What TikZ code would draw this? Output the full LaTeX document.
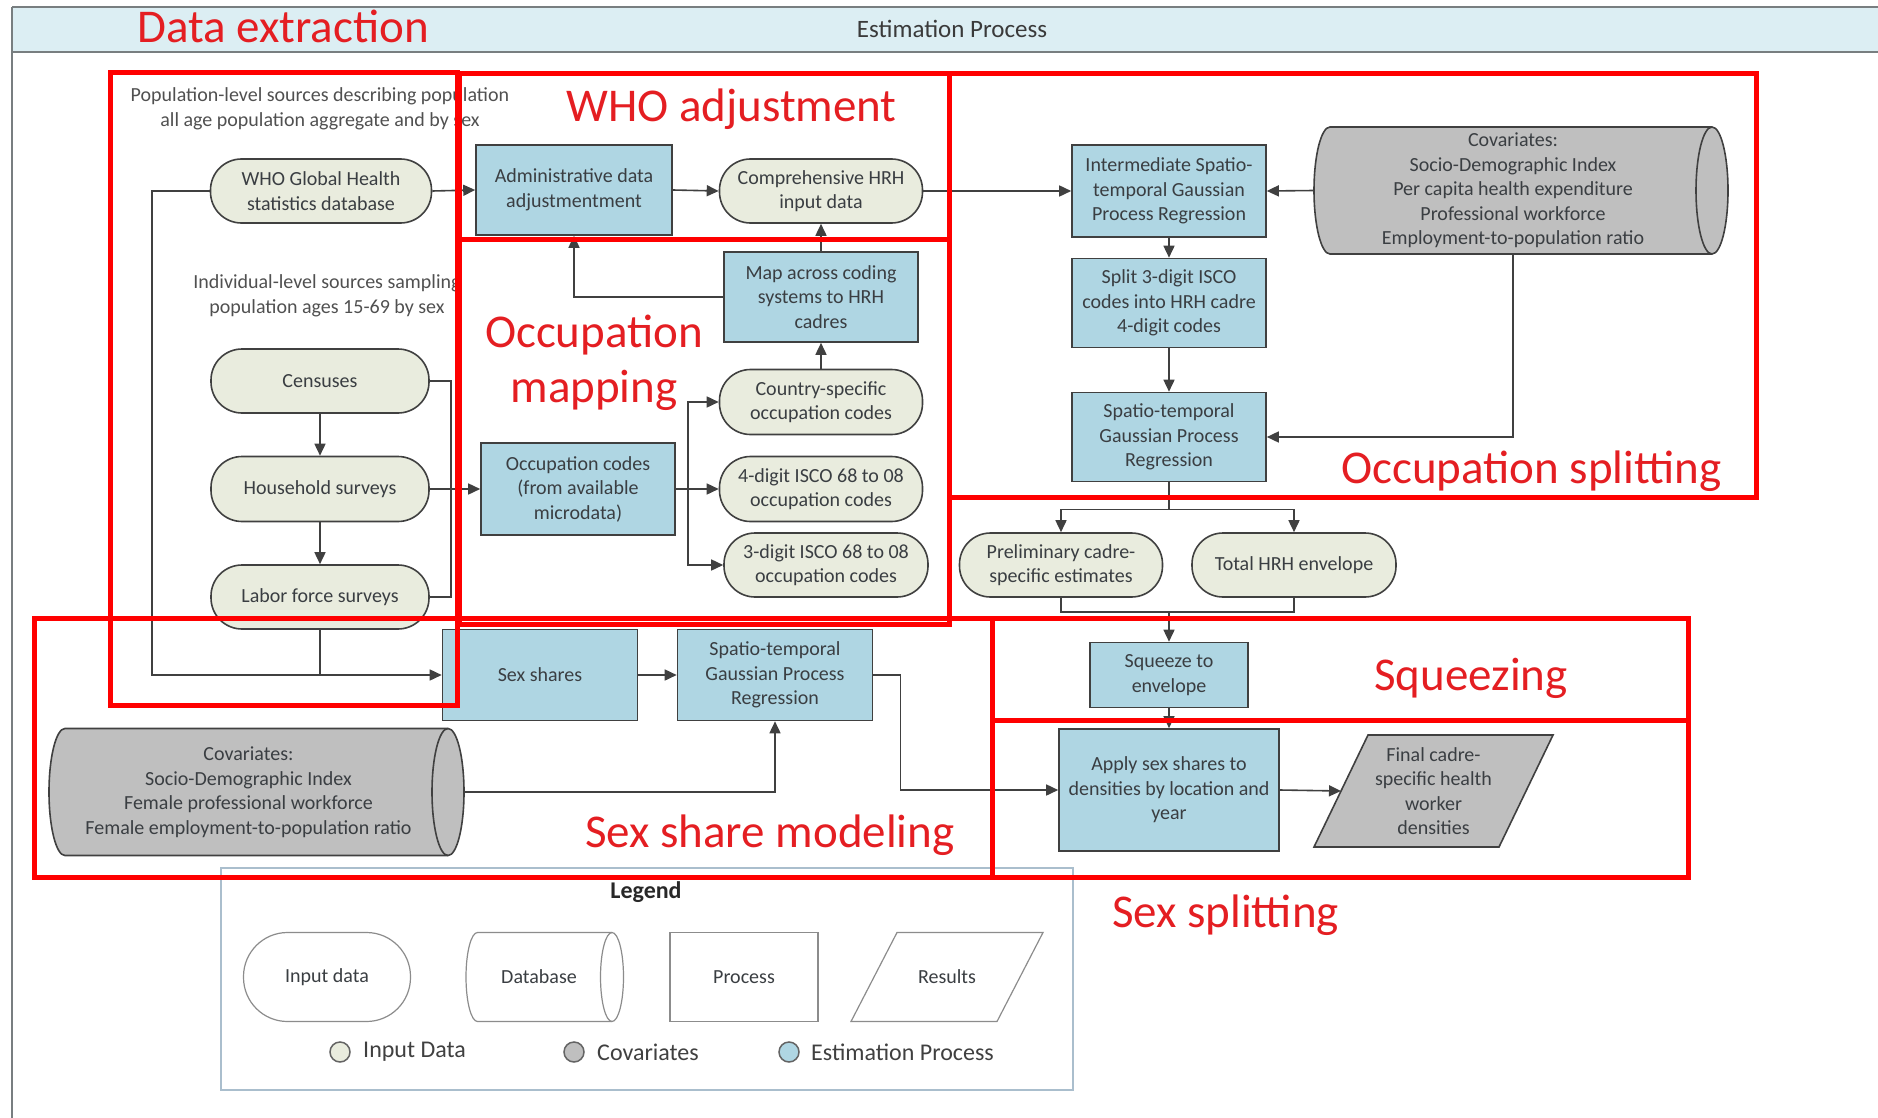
\documentclass[tikz,border=0pt]{standalone}
\usepackage{fontspec}
\setmainfont{Carlito}
\usetikzlibrary{arrows.meta,calc,backgrounds}
\definecolor{inpc}{RGB}{233,236,222}
\definecolor{procc}{RGB}{175,214,227}
\definecolor{covc}{RGB}{191,191,191}
\definecolor{linec}{RGB}{64,64,64}
\definecolor{txtc}{RGB}{58,62,66}
\definecolor{bandc}{RGB}{220,238,243}
\definecolor{bandline}{RGB}{120,126,128}
\definecolor{redbx}{RGB}{255,0,0}
\definecolor{redtxt}{RGB}{228,30,34}
\definecolor{legline}{RGB}{170,190,205}
\definecolor{lgshape}{RGB}{140,140,140}
\newcommand\dbshape[5]{% node, rx, ry, fill, line colour/width
  \path[draw=#5,fill=#4] let \p1=(#1.north west), \p2=(#1.south east) in
   (\x1+#2,\y1) -- (\x2,\y1) arc[start angle=90,end angle=-90,x radius=#2,y radius=#3]
   -- (\x1+#2,\y2) arc[start angle=270,end angle=90,x radius=#2,y radius=#3] -- cycle;
  \path[draw=#5] let \p2=(#1.north east) in
   (\x2,\y2) arc[start angle=90,end angle=270,x radius=#2,y radius=#3];}
\newcommand\paral[3]{%
  \path[#3] let \p1=(#1.north west), \p2=(#1.south east) in
   (\x1+#2,\y1) -- (\x2+#2,\y1) -- (\x2-#2,\y2) -- (\x1-#2,\y2) -- cycle;}
\begin{document}
\begin{tikzpicture}[x=1pt,y=1pt,
  every node/.style={text=txtc},
  nf/.style={font=\fontsize{20}{24.5}\selectfont},
  inp/.style={nf, rectangle, rounded corners=31pt, draw=linec, fill=inpc, line width=1.6pt, align=center, inner sep=0pt},
  proc/.style={nf, rectangle, draw=linec, fill=procc, line width=1.6pt, align=center, inner sep=0pt},
  ghost/.style={nf, rectangle, draw=none, fill=none, align=center, inner sep=0pt, outer sep=0pt},
  conn/.style={draw=linec, line width=1.6pt},
  arr/.style={conn, -{Triangle[length=12pt,width=11pt]}},
  redbox/.style={draw=redbx, line width=5pt},
  redlab/.style={font=\fontsize{47}{55}\selectfont, text=redtxt, inner sep=0pt},
  note/.style={nf, align=center, inner sep=0pt, text={rgb,255:red,80;green,80;blue,80}},
  lgs/.style={nf, rectangle, draw=lgshape, fill=white, line width=1.2pt, align=center, inner sep=0pt, minimum height=89pt},
  lgtxt/.style={font=\fontsize{24}{28}\selectfont, anchor=west, inner sep=0pt, text={rgb,255:red,64;green,64;blue,64}},
  dot/.style={circle, minimum size=20pt, inner sep=0pt, draw={rgb,255:red,100;green,100;blue,100}, line width=1.5pt},
]
\useasboundingbox (0,0) rectangle (1878,-1118);
% header band and frame
\fill[bandc] (12,-7) rectangle (1878,-52);
\draw[bandline, line width=2.5pt] (12,-7) -- (1878,-7);
\draw[bandline, line width=2.5pt] (12,-52) -- (1878,-52);
\draw[bandline, line width=1.5pt] (12,-7) -- (12,-1118);
\node[font=\fontsize{25}{30}\selectfont, text={rgb,255:red,58;green,58;blue,58}] (title) at (952,-29) {Estimation Process};

% notes
\node[note] (pop) at (320,-109) {Population-level sources describing population\\all age population aggregate and by sex};
\node[note] (ind) at (327,-296) {Individual-level sources sampling\\population ages 15-69 by sex};

% input data nodes
\node[inp, minimum width=221pt, minimum height=64pt] (who) at (321,-191) {WHO Global Health\\statistics database};
\node[inp, minimum width=203pt, minimum height=64pt] (comp) at (821,-191) {Comprehensive HRH\\input data};
\node[inp, minimum width=218pt, minimum height=64pt] (cen) at (320,-381) {Censuses};
\node[inp, minimum width=218pt, minimum height=65pt] (hh) at (320,-489) {Household surveys};
\node[inp, minimum width=218pt, minimum height=64pt] (lab) at (320,-597) {Labor force surveys};
\node[inp, minimum width=203pt, minimum height=65pt] (cty) at (821,-402) {Country-specific\\occupation codes};
\node[inp, minimum width=203pt, minimum height=65pt] (isco4) at (821,-489) {4-digit ISCO 68 to 08\\occupation codes};
\node[inp, minimum width=204pt, minimum height=64pt] (isco3) at (826,-565) {3-digit ISCO 68 to 08\\occupation codes};
\node[inp, minimum width=203pt, minimum height=64pt] (prelim) at (1061,-565) {Preliminary cadre-\\specific estimates};
\node[inp, minimum width=204pt, minimum height=64pt] (total) at (1294,-565) {Total HRH envelope};

% process nodes
\node[proc, minimum width=196pt, minimum height=90pt] (adm) at (574,-190) {Administrative data\\adjustmentment};
\node[proc, minimum width=194pt, minimum height=90pt] (map) at (821,-297) {Map across coding\\systems to HRH\\cadres};
\node[proc, minimum width=194pt, minimum height=92pt] (occ) at (578,-489) {Occupation codes\\(from available\\microdata)};
\node[proc, minimum width=195pt, minimum height=91pt] (sex) at (540,-675) {Sex shares};
\node[proc, minimum width=195pt, minimum height=91pt] (sp2) at (775,-675) {Spatio-temporal\\Gaussian Process\\Regression};
\node[proc, minimum width=194pt, minimum height=92pt] (inter) at (1169,-191) {Intermediate Spatio-\\temporal Gaussian\\Process Regression};
\node[proc, minimum width=194pt, minimum height=89pt] (split) at (1169,-303) {Split 3-digit ISCO\\codes into HRH cadre\\4-digit codes};
\node[proc, minimum width=194pt, minimum height=89pt] (sp1) at (1169,-437) {Spatio-temporal\\Gaussian Process\\Regression};
\node[proc, minimum width=158pt, minimum height=65pt] (sq) at (1169,-675) {Squeeze to\\envelope};
\node[proc, minimum width=220pt, minimum height=122pt] (apply) at (1169,-790) {Apply sex shares to\\densities by location and\\year};

% covariates (database) and results
\node[ghost, minimum width=399pt, minimum height=127pt] (covL) at (248.5,-792) {Covariates:\\Socio-Demographic Index\\Female professional workforce\\Female employment-to-population ratio};
\node[ghost, minimum width=398pt, minimum height=127pt] (covR) at (1513,-190.5) {Covariates:\\Socio-Demographic Index\\Per capita health expenditure\\Professional workforce\\Employment-to-population ratio};
\node[ghost, minimum width=185pt, minimum height=112pt] (final) at (1433.5,-791) {Final cadre-\\specific health\\worker\\densities};

% legend
\node[ghost, minimum width=852pt, minimum height=222pt] (legbox) at (647,-979) {};
\node[font=\bfseries\fontsize{24}{28}\selectfont, text={rgb,255:red,40;green,40;blue,40}] (legt) at (646,-892) {Legend};
\node[lgs, rounded corners=44pt, minimum width=167pt] (lgI) at (327,-977) {Input data};
\node[ghost, minimum width=146pt, minimum height=89pt] (lgD) at (539,-977) {Database};
\node[lgs, minimum width=148pt] (lgP) at (744,-977) {Process};
\node[ghost, minimum width=146pt, minimum height=89pt] (lgR) at (947,-977) {Results};
\node[dot, fill=inpc] (d1) at (340,-1052) {};
\node[lgtxt] (t1) at (363,-1052) {Input Data};
\node[dot, fill=covc] (d2) at (574,-1052) {};
\node[lgtxt] (t2) at (597,-1052) {Covariates};
\node[dot, fill=procc] (d3) at (789,-1052) {};
\node[lgtxt] (t3) at (811,-1052) {Estimation Process};

\begin{pgfonlayer}{background}
  \draw[legline, fill=white, line width=1.5pt] (legbox.north west) rectangle (legbox.south east);
  \dbshape{covL}{16pt}{63.5pt}{covc}{linec,line width=1.6pt}
  \dbshape{covR}{16pt}{63.5pt}{covc}{linec,line width=1.6pt}
  \paral{final}{27pt}{draw=linec,fill=covc,line width=1.6pt}
  \dbshape{lgD}{11.5pt}{44.5pt}{white}{lgshape,line width=1.2pt}
  \paral{lgR}{23pt}{draw=lgshape,fill=white,line width=1.2pt}
\end{pgfonlayer}

% connectors
\draw[arr] (who.east) -- (adm.west);
\draw[arr] (adm.east) -- (comp.west);
\draw[arr] (comp.east) -- (inter.west);
\draw[arr] (map.north) -- (comp.south);
\draw[arr] (map.west) -| (adm.south);
\draw[arr] (cty.north) -- (map.south);
\draw[arr] (cen.south) -- (hh.north);
\draw[arr] (hh.south) -- (lab.north);
\draw[conn] (cen.east) -- ++(21,0) |- (lab.east);
\draw[arr] (hh.east) -- (occ.west);
\draw[arr] (occ.east) -- ++(12,0) |- (cty.west);
\draw[arr] (occ.east) -- (isco4.west);
\draw[arr] (occ.east) -- ++(12,0) |- (isco3.west);
\draw[arr] (who.west) -- ++(-58,0) |- (sex.west);
\draw[conn] (lab.south) -- (lab.south |- sex.west);
\draw[arr] (sex.east) -- (sp2.west);
\draw[arr] (sp2.east) -- ++(27,0) |- (apply.west);
\draw[arr] ([xshift=16pt]covL.east) -| (sp2.south);
\draw[arr] (covR.west) -- (inter.east);
\draw[arr] (covR.south) |- (sp1.east);
\draw[arr] (inter.south) -- (split.north);
\draw[arr] (split.south) -- (sp1.north);
\coordinate (j1) at ($(sp1.south)+(0,-27)$);
\coordinate (j2) at ($(sq.north)+(0,30)$);
\draw[conn] (sp1.south) -- (j1);
\draw[arr] (j1) -| (prelim.north);
\draw[arr] (j1) -| (total.north);
\draw[conn] (prelim.south) |- (j2) -| (total.south);
\draw[arr] (j2) -- (sq.north);
\draw[arr] (sq.south) -- (apply.north);
\draw[arr] (apply.east) -- (final.west);

% red annotation boxes
\draw[redbox] (110,-73) rectangle (457,-705);
\draw[redbox] (459,-74) rectangle (949,-239);
\draw[redbox] (459,-239) rectangle (949,-624);
\draw[redbox] (949,-74) rectangle (1756,-497);
\draw[redbox] (34,-618) rectangle (992,-877);
\draw[redbox] (992,-618) rectangle (1688,-720);
\draw[redbox] (992,-720) rectangle (1688,-877);

% red labels
\node[redlab, anchor=base west] (lDE) at (137,-43) {Data extraction};
\node[redlab, anchor=base west] (lWHO) at (566,-122) {WHO adjustment};
\node[redlab, anchor=base] (lOM1) at (594,-347) {Occupation};
\node[redlab, anchor=base] (lOM2) at (594,-402) {mapping};
\node[redlab, anchor=base west] (lOS) at (1341,-483) {Occupation splitting};
\node[redlab, anchor=base west] (lSQ) at (1374,-690) {Squeezing};
\node[redlab, anchor=base west] (lSSM) at (585,-847) {Sex share modeling};
\node[redlab, anchor=base west] (lSS) at (1112,-927) {Sex splitting};
\end{tikzpicture}
\end{document}
